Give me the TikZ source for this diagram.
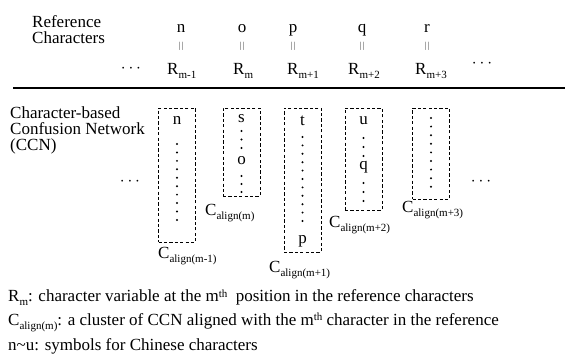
\documentclass[tikz,border=0pt]{standalone}
\usepackage{fontspec}
\setmainfont{Liberation Serif}
\newcommand{\lowtext}[1]{\raisebox{-4pt}{\fontsize{11}{11}\selectfont #1}}
\newcommand{\hightext}[1]{\raisebox{5pt}{\fontsize{11}{11}\selectfont #1}}
\begin{document}
\begin{tikzpicture}[x=1pt,y=-1pt,
    txt/.style={inner sep=0pt,font=\fontsize{17}{16}\selectfont},
    bar/.style={inner sep=0pt,text=black!75,font=\fontsize{9}{9}\selectfont},
    clusterbox/.style={draw=black,dash pattern=on 3.2pt off 2.2pt,line width=0.9pt,inner sep=0pt,minimum width=37pt}]
\useasboundingbox (0,0) rectangle (565,363);

% reference characters
\node[txt,anchor=north west,align=left] (reflabel) at (32,15) {Reference\\Characters};
\node[txt,anchor=base] (r1) at (181,33) {n};
\node[txt,anchor=base] (r2) at (242,33) {o};
\node[txt,anchor=base] (r3) at (293,33) {p};
\node[txt,anchor=base] (r4) at (362,33) {q};
\node[txt,anchor=base] (r5) at (427,33) {r};
\foreach \i/\x in {1/181,2/242,3/293,4/362,5/427}
    \node[bar] (e\i) at (\x,46) {|\kern1.2pt|};
\node[txt,anchor=base west] (R1) at (167,75) {R\lowtext{m-1}};
\node[txt,anchor=base west] (R2) at (233,75) {R\lowtext{m}};
\node[txt,anchor=base west] (R3) at (287,75) {R\lowtext{m+1}};
\node[txt,anchor=base west] (R4) at (348,75) {R\lowtext{m+2}};
\node[txt,anchor=base west] (R5) at (415,75) {R\lowtext{m+3}};
\node[txt] (rdotsL) at (131,69) {$\cdots$};
\node[txt] (rdotsR) at (482,64) {$\cdots$};

\coordinate (ruleL) at (13,88);
\coordinate (ruleR) at (565,88);
\draw[line width=1.6pt] (ruleL) -- (ruleR);

% confusion network
\node[txt,anchor=north west,align=left] (ccnlabel) at (10,107) {Character-based\\Confusion Network\\(CCN)};
\node[clusterbox,minimum height=134pt] (c1) at (177,175) {};
\node[clusterbox,minimum height=88pt] (c2) at (241.5,152) {};
\node[clusterbox,minimum height=144pt] (c3) at (302.5,180) {};
\node[clusterbox,minimum height=102pt] (c4) at (363.5,159) {};
\node[clusterbox,minimum height=91pt] (c5) at (431,153.5) {};

\node[txt,anchor=base] (n1) at (177,125) {n};
\node[txt,anchor=base] (s2) at (241.5,123) {s};
\node[txt,anchor=base] (o2) at (241.5,165) {o};
\node[txt,anchor=base] (t3) at (302.5,126) {t};
\node[txt,anchor=base] (p3) at (302.5,244) {p};
\node[txt,anchor=base] (u4) at (363.5,125) {u};
\node[txt,anchor=base] (q4) at (363.5,170) {q};

\foreach \k in {0,...,9}
    \fill (177,{144+8.44*\k}) circle (1.1pt);
\foreach \y in {131,139.5,148,176,184,192}
    \fill (241.5,\y) circle (1.1pt);
\foreach \k in {0,...,10}
    \fill (302.5,{137+8.4*\k}) circle (1.1pt);
\foreach \y in {138,147,156,183,192,201}
    \fill (363.5,\y) circle (1.1pt);
\foreach \k in {0,...,8}
    \fill (431,{118+8.6*\k}) circle (1.1pt);

\node[txt,anchor=base west] (cap1) at (158,259) {C\lowtext{align(m-1)}};
\node[txt,anchor=base west] (cap2) at (205,216) {C\lowtext{align(m)}};
\node[txt,anchor=base west] (cap3) at (269,273) {C\lowtext{align(m+1)}};
\node[txt,anchor=base west] (cap4) at (329,228) {C\lowtext{align(m+2)}};
\node[txt,anchor=base west] (cap5) at (402,213) {C\lowtext{align(m+3)}};
\node[txt] (cdotsL) at (130,182) {$\cdots$};
\node[txt] (cdotsR) at (481,182) {$\cdots$};

% notes
\node[txt,anchor=base west] (note1) at (8,302) {R\lowtext{m}: character variable at the m\hightext{th}\ \ position in the reference characters};
\node[txt,anchor=base west] (note2) at (8,326) {C\lowtext{align(m)}: a cluster of CCN aligned with the m\hightext{th} character in the reference};
\node[txt,anchor=base west] (note3) at (8,350) {n\textasciitilde u: symbols for Chinese characters};
\end{tikzpicture}
\end{document}
